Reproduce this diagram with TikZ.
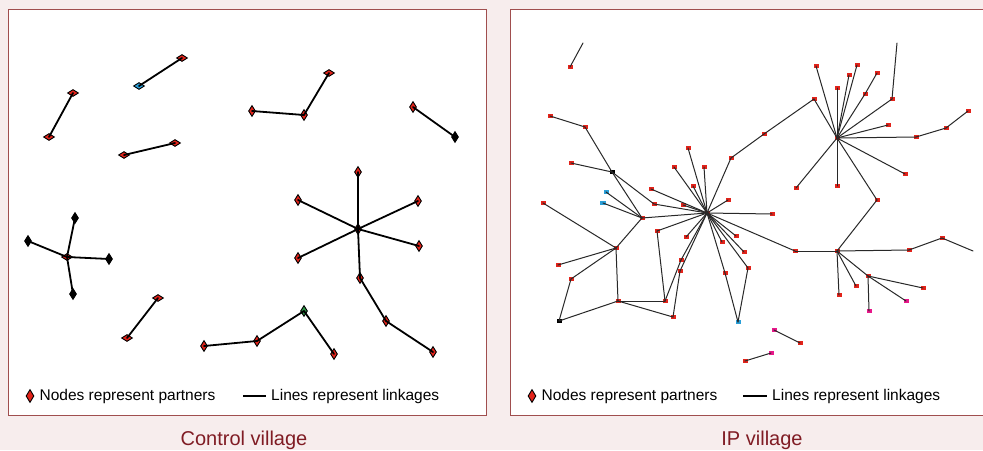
\documentclass[tikz,border=0pt]{standalone}
\usepackage{fontspec}
\setmainfont{Liberation Sans}
\usepackage{tikz}
\usepackage{tkz-euclide}
\usetikzlibrary {positioning}
\usetikzlibrary{shapes.geometric}
\definecolor{paper}{RGB}{247,237,237}
\definecolor{frame}{RGB}{160,78,78}
\definecolor{caption}{RGB}{128,28,36}
\definecolor{partnerred}{RGB}{226,35,26}
\definecolor{partnerblue}{RGB}{42,159,216}
\definecolor{partnergreen}{RGB}{46,150,70}
\definecolor{partnerpink}{RGB}{232,23,138}
\definecolor{linkgray}{RGB}{40,40,40}

\begin{document}
\begin{tikzpicture}[%
  x=1pt, y=-1pt,
  partner/.style={diamond, draw=black, fill=partnerred, line width=0.9pt,
    inner sep=0pt, minimum width=11pt, minimum height=7pt},
  partnerup/.style={partner, minimum width=7pt, minimum height=11pt},
  member/.style={rectangle, fill=partnerred, inner sep=0pt,
    minimum width=5pt, minimum height=4pt},
  linkC/.style={line width=1.8pt, black},
  linkIP/.style={line width=1pt, linkgray},
  legendtext/.style={inner sep=0pt, font=\fontsize{15.5}{18}\selectfont},
  titletext/.style={inner sep=0pt, text=caption, font=\fontsize{20}{24}\selectfont},
]

  \useasboundingbox (0,0) rectangle (983,450);
  \fill[paper] (0,0) rectangle (983,450);

  % Panels
  \draw[frame, fill=white, line width=1pt] (8,9) rectangle (486,415);
  \draw[frame, fill=white, line width=1pt] (510,9) rectangle (995,415);

  % Control village
  \node[partner] (c1) at (73,93) {};
  \node[partner] (c2) at (49,137) {};
  \node[partner, fill=partnerblue] (c3) at (139,86) {};
  \node[partner] (c4) at (182,58) {};
  \node[partner] (c5) at (124,155) {};
  \node[partner] (c6) at (175,143) {};
  \node[partnerup] (c7) at (252,111) {};
  \node[partnerup] (c8) at (304,115) {};
  \node[partner] (c9) at (329,73) {};
  \node[partnerup] (c10) at (413,107) {};
  \node[partnerup, fill=black] (c11) at (455,137) {};

  \node[partnerup] (c12) at (358,229) {};
  \node[partnerup] (c13) at (358,172) {};
  \node[partnerup] (c14) at (298,200) {};
  \node[partnerup] (c15) at (418,201) {};
  \node[partnerup] (c16) at (298,258) {};
  \node[partnerup] (c17) at (419,246) {};
  \node[partnerup] (c18) at (360,278) {};
  \node[partnerup] (c19) at (386,321) {};
  \node[partnerup] (c20) at (433,352) {};

  \node[partner] (c21) at (67,257) {};
  \node[partnerup, fill=black] (c22) at (75,218) {};
  \node[partnerup, fill=black] (c23) at (28,241) {};
  \node[partnerup, fill=black] (c24) at (109,259) {};
  \node[partnerup, fill=black] (c25) at (73,294) {};

  \node[partner] (c26) at (158,298) {};
  \node[partner] (c27) at (127,338) {};
  \node[partnerup] (c28) at (204,346) {};
  \node[partnerup] (c29) at (257,341) {};
  \node[partnerup, fill=partnergreen] (c30) at (304,311) {};
  \node[partnerup] (c31) at (334,354) {};

  \tkzDrawSegments[linkC](c1,c2 c3,c4 c5,c6 c7,c8 c8,c9 c10,c11)
  \tkzDrawSegments[linkC](c12,c13 c12,c14 c12,c15 c12,c16 c12,c17 c12,c18 c18,c19 c19,c20)
  \tkzDrawSegments[linkC](c21,c22 c21,c23 c21,c24 c21,c25)
  \tkzDrawSegments[linkC](c26,c27 c28,c29 c29,c30 c30,c31)

  % IP village
  \node[member] (h1) at (707,213) {};
  \node[member] (h2) at (837,138) {};
  \node[member] (h3) at (837,251) {};

  \coordinate (t1) at (583,43);
  \coordinate (t2) at (897,43);
  \coordinate (t3) at (973,251);

  \node[member] (i1) at (570,67) {};
  \node[member] (i2) at (550,116) {};
  \node[member] (i3) at (585,127) {};
  \node[member, fill=black] (i4) at (612,172) {};
  \node[member] (i5) at (571,163) {};
  \node[member] (i6) at (642,218) {};
  \node[member] (i7) at (654,204) {};
  \node[member, fill=partnerblue] (i8) at (606,192) {};
  \node[member, fill=partnerblue, minimum width=6pt] (i9) at (603,203) {};
  \node[member] (i10) at (616,248) {};
  \node[member] (i11) at (543,203) {};
  \node[member] (i12) at (558,265) {};
  \node[member] (i13) at (571,279) {};
  \node[member, fill=black] (i14) at (559,321) {};
  \node[member] (i15) at (618,301) {};
  \node[member] (i16) at (665,301) {};
  \node[member] (i17) at (673,317) {};
  \node[member] (i18) at (657,231) {};
  \node[member] (i19) at (681,260) {};
  \node[member] (i20) at (680,271) {};
  \node[member] (i21) at (686,237) {};
  \node[member] (i22) at (688,148) {};
  \node[member] (i23) at (674,167) {};
  \node[member] (i24) at (704,167) {};
  \node[member] (i25) at (693,186) {};
  \node[member] (i26) at (651,189) {};
  \node[member] (i27) at (683,205) {};
  \node[member] (i28) at (728,200) {};
  \node[member] (i29) at (772,214) {};
  \node[member] (i30) at (731,158) {};
  \node[member] (i31) at (764,134) {};
  \node[member] (i32) at (814,99) {};
  \node[member] (i33) at (816,66) {};
  \node[member] (i34) at (857,65) {};
  \node[member] (i35) at (849,75) {};
  \node[member] (i36) at (865,94) {};
  \node[member] (i37) at (877,73) {};
  \node[member] (i38) at (837,88) {};
  \node[member] (i39) at (892,99) {};
  \node[member] (i40) at (888,125) {};
  \node[member] (i41) at (916,137) {};
  \node[member] (i42) at (946,128) {};
  \node[member] (i43) at (968,111) {};
  \node[member] (i44) at (905,174) {};
  \node[member] (i45) at (837,186) {};
  \node[member] (i46) at (796,188) {};
  \node[member] (i47) at (877,200) {};
  \node[member] (i48) at (795,251) {};
  \node[member] (i49) at (909,250) {};
  \node[member] (i50) at (942,238) {};
  \node[member] (i51) at (839,295) {};
  \node[member] (i52) at (856,286) {};
  \node[member] (i53) at (868,276) {};
  \node[member] (i54) at (923,288) {};
  \node[member, fill=partnerpink] (i55) at (906,301) {};
  \node[member, fill=partnerpink] (i56) at (869,311) {};
  \node[member] (i57) at (722,242) {};
  \node[member] (i58) at (736,236) {};
  \node[member] (i59) at (744,252) {};
  \node[member] (i60) at (725,273) {};
  \node[member] (i61) at (748,268) {};
  \node[member, fill=partnerblue] (i62) at (738,322) {};
  \node[member, fill=partnerpink] (i63) at (774,330) {};
  \node[member] (i64) at (800,343) {};
  \node[member, fill=partnerpink] (i65) at (771,353) {};
  \node[member] (i66) at (745,361) {};

  % left branch
  \tkzDrawSegments[linkIP](t1,i1 i2,i3 i3,i4 i4,i6 i5,i4 i4,i7 i7,h1)
  \tkzDrawSegments[linkIP](i6,h1 i8,i6 i9,i6 i6,i10 i10,i11 i10,i12 i10,i13 i10,i15)
  \tkzDrawSegments[linkIP](i13,i14 i14,i15 i15,i16 i15,i17 i16,i18 i18,h1 i16,i19 i19,h1 i17,i20 i20,h1)
  % first hub
  \tkzDrawSegments[linkIP](h1,i21 h1,i22 h1,i23 h1,i24 h1,i25 h1,i26 h1,i27 h1,i28 h1,i29)
  \tkzDrawSegments[linkIP](h1,i57 h1,i58 h1,i59 h1,i60 h1,i61 i60,i62 i61,i62)
  \tkzDrawSegments[linkIP](h1,i30 i30,i31 i31,i32 i32,h2)
  % second hub
  \tkzDrawSegments[linkIP](h2,i33 h2,i34 h2,i35 h2,i36 i36,i37 h2,i38 h2,i39 i39,t2 h2,i40)
  \tkzDrawSegments[linkIP](h2,i41 i41,i42 i42,i43 h2,i44 h2,i45 h2,i46 h2,i47 i47,h3)
  % third hub
  \tkzDrawSegments[linkIP](h1,i48 i48,h3 h3,i49 i49,i50 i50,t3)
  \tkzDrawSegments[linkIP](h3,i51 h3,i52 h3,i53 i53,i54 i53,i55 i53,i56)
  \tkzDrawSegments[linkIP](i63,i64 i65,i66)

  % Legends
  \node[partner, minimum width=8pt, minimum height=13pt] (legA) at (30,396) {};
  \node[legendtext, right=5pt of legA] (legAtext) {Nodes represent partners};
  \coordinate (lineAa) at (243,396);
  \coordinate (lineAb) at (266,396);
  \draw[line width=2.4pt] (lineAa) -- (lineAb);
  \node[legendtext, right=5pt of lineAb] (lineAtext) {Lines represent linkages};

  \node[partner, minimum width=8pt, minimum height=13pt] (legB) at (532,396) {};
  \node[legendtext, right=5pt of legB] (legBtext) {Nodes represent partners};
  \coordinate (lineBa) at (743,396);
  \coordinate (lineBb) at (767,396);
  \draw[line width=2.4pt] (lineBa) -- (lineBb);
  \node[legendtext, right=5pt of lineBb] (lineBtext) {Lines represent linkages};

  % Titles
  \node[titletext, anchor=base] (titleC) at (244,445) {Control village};
  \node[titletext, anchor=base] (titleIP) at (762,445) {IP village};

\end{tikzpicture}
\end{document}
